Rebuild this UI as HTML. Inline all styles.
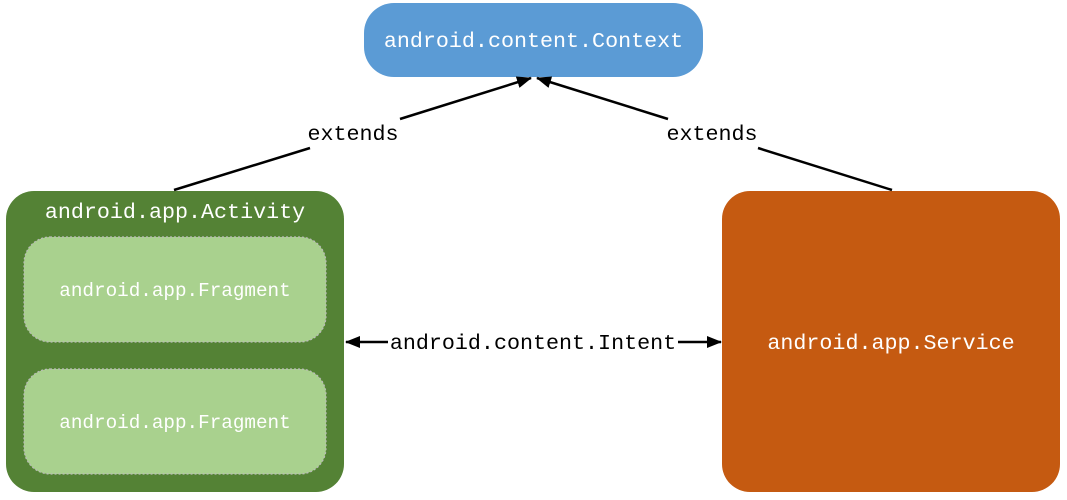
<!DOCTYPE html>
<html><head><meta charset="utf-8"><style>
html,body{margin:0;padding:0;background:#fff}
svg{display:block}
text{font-family:"Liberation Mono","DejaVu Sans Mono",monospace}
</style></head><body>
<svg width="1067" height="500" viewBox="0 0 1067 500" xmlns="http://www.w3.org/2000/svg">
<defs>
<marker id="ar" markerWidth="15" markerHeight="12" refX="14" refY="6" orient="auto" markerUnits="userSpaceOnUse">
<path d="M0,0 L15,6 L0,12 z" fill="#000"/></marker>
</defs>
<rect x="364" y="3" width="339" height="74" rx="30" fill="#5b9bd5"/>
<text x="533.5" y="47" font-size="21.7" fill="#fff" text-anchor="middle">android.content.Context</text>

<rect x="6" y="191" width="338" height="301" rx="28" fill="#548235"/>
<text x="175" y="218" font-size="21.7" fill="#fff" text-anchor="middle">android.app.Activity</text>
<rect x="24" y="237" width="302" height="105" rx="26" fill="#a9d18e" stroke="#bbb" stroke-width="1.2" stroke-dasharray="2,2"/>
<text x="175" y="296" font-size="19.3" fill="#fff" text-anchor="middle">android.app.Fragment</text>
<rect x="24" y="369" width="302" height="105" rx="26" fill="#a9d18e" stroke="#bbb" stroke-width="1.2" stroke-dasharray="2,2"/>
<text x="175" y="428" font-size="19.3" fill="#fff" text-anchor="middle">android.app.Fragment</text>

<rect x="722" y="191" width="338" height="301" rx="28" fill="#c55a11"/>
<text x="891" y="349" font-size="21.7" fill="#fff" text-anchor="middle">android.app.Service</text>

<line x1="174" y1="190" x2="310" y2="148" stroke="#000" stroke-width="2.5"/>
<line x1="400" y1="119" x2="531" y2="78" stroke="#000" stroke-width="2.5" marker-end="url(#ar)"/>
<text x="353" y="140" font-size="21.7" fill="#000" text-anchor="middle">extends</text>
<line x1="892" y1="190" x2="758" y2="148" stroke="#000" stroke-width="2.5"/>
<line x1="668" y1="119" x2="537" y2="78" stroke="#000" stroke-width="2.5" marker-end="url(#ar)"/>
<text x="712" y="140" font-size="21.7" fill="#000" text-anchor="middle">extends</text>

<line x1="388" y1="342" x2="346" y2="342" stroke="#000" stroke-width="2.5" marker-end="url(#ar)"/>
<line x1="678" y1="342" x2="721" y2="342" stroke="#000" stroke-width="2.5" marker-end="url(#ar)"/>
<text x="533" y="349" font-size="21.7" fill="#000" text-anchor="middle">android.content.Intent</text>
</svg>
</body></html>
